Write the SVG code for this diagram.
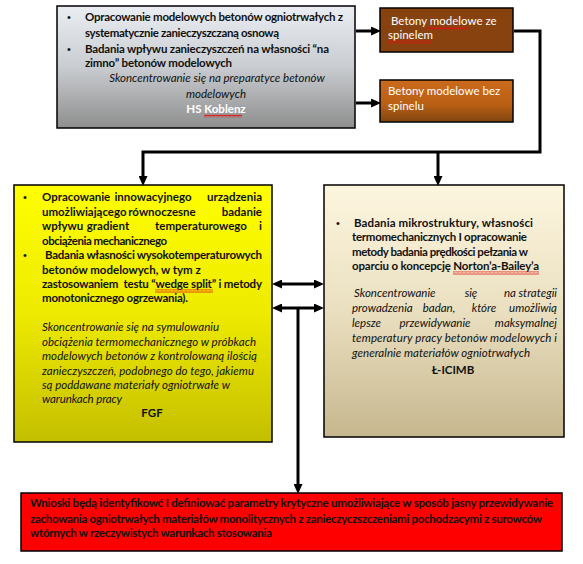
<svg xmlns="http://www.w3.org/2000/svg" width="583" height="564" viewBox="0 0 583 564">
<defs>
  <linearGradient id="gGray" x1="0" y1="0" x2="0" y2="1">
    <stop offset="0" stop-color="#eaeef3"/>
    <stop offset="0.5" stop-color="#c9ccd0"/>
    <stop offset="1" stop-color="#8e8e8e"/>
  </linearGradient>
  <linearGradient id="gBrown2" x1="0" y1="0" x2="0" y2="1">
    <stop offset="0" stop-color="#cc6a1c"/>
    <stop offset="0.6" stop-color="#b85f14"/>
    <stop offset="1" stop-color="#7e4510"/>
  </linearGradient>
  <linearGradient id="gYellow" x1="0" y1="0" x2="0" y2="1">
    <stop offset="0" stop-color="#ffff00"/>
    <stop offset="0.5" stop-color="#eeea00"/>
    <stop offset="1" stop-color="#c4bf00"/>
  </linearGradient>
  <linearGradient id="gBeige" x1="0" y1="0" x2="0" y2="1">
    <stop offset="0" stop-color="#fdf6df"/>
    <stop offset="0.5" stop-color="#eadfc0"/>
    <stop offset="1" stop-color="#c6b78e"/>
  </linearGradient>
  <pattern id="zig" width="4" height="3" patternUnits="userSpaceOnUse">
    <path d="M0,2.5 L1,0.5 L2,2.5 L3,0.5 L4,2.5" fill="none" stroke="#e01010" stroke-width="0.8"/>
  </pattern>
  <marker id="ah" markerUnits="userSpaceOnUse" markerWidth="10" markerHeight="9" refX="0" refY="4.5" orient="auto-start-reverse" viewBox="0 0 10 9">
    <path d="M0,0 L10,4.5 L0,9 Z" fill="#000"/>
  </marker>
  <style>
    .box { stroke: #000; stroke-width: 1.5; }
    .b { font-family: Lato, "Liberation Sans", sans-serif; font-weight: bold; font-size: 11.5px; fill: #111; }
    .i { font-family: Lato, "Liberation Sans", sans-serif; font-style: italic; font-size: 11.5px; fill: #111; }
    .w { font-family: Lato, "Liberation Sans", sans-serif; font-size: 11.5px; fill: #fff; }
    .wb { font-family: Lato, "Liberation Sans", sans-serif; font-weight: bold; font-size: 11.5px; fill: #fff; }
    .dot { font-family: "Liberation Sans", sans-serif; font-size: 11px; fill: #111; }
    .c { text-anchor: middle; }
    .e { text-anchor: end; }
    .conn { fill: none; stroke: #000; stroke-width: 3; }
    .sq { fill: url(#zig); }
  </style>
</defs>

<g id="node-hs-koblenz">
  <rect class="box" x="57" y="6" width="298" height="122" fill="url(#gGray)"/>
  <text class="dot" x="67" y="21">•</text>
  <text class="b" x="85" y="21" textLength="258" lengthAdjust="spacing">Opracowanie modelowych betonów ogniotrwałych z</text>
  <text class="b" x="85" y="37" textLength="194" lengthAdjust="spacing">systematycznie zanieczyszczaną osnową</text>
  <text class="dot" x="67" y="53">•</text>
  <text class="b" x="85" y="53" textLength="244" lengthAdjust="spacing">Badania wpływu zanieczyszczeń na własności “na</text>
  <text class="b" x="85" y="67" textLength="147" lengthAdjust="spacing">zimno” betonów modelowych</text>
  <text class="i c" x="217" y="82">Skoncentrowanie się na preparatyce betonów</text>
  <text class="i c" x="216" y="98">modelowych</text>
  <text class="wb c" x="216" y="113">HS Koblenz</text>
  <rect class="sq" x="204" y="114.5" width="38" height="3"/>
</g>

<g id="node-ze-spinelem">
  <rect class="box" x="380" y="8" width="133" height="44" fill="#88420f"/>
  <text class="w" x="391" y="25">Betony modelowe ze</text>
  <text class="w" x="388" y="39">spinelem</text>
  <rect class="sq" x="427" y="26.5" width="40" height="3"/>
  <rect class="sq" x="388" y="40.5" width="43" height="3"/>
</g>

<g id="node-bez-spinelu">
  <rect class="box" x="380" y="80" width="133" height="42" fill="url(#gBrown2)"/>
  <text class="w" x="388" y="95">Betony modelowe bez</text>
  <text class="w" x="388" y="110">spinelu</text>
</g>

<g id="node-fgf">
  <rect class="box" x="14" y="185" width="258" height="257" fill="url(#gYellow)"/>
  <text class="dot" x="23" y="201">•</text>
  <text class="b" y="201"><tspan x="42">Opracowanie</tspan><tspan x="153" class="c">innowacyjnego</tspan><tspan x="262" class="e">urządzenia</tspan></text>
  <text class="b" y="216"><tspan x="42">umożliwiającego</tspan><tspan x="162" class="c">równoczesne</tspan><tspan x="262" class="e">badanie</tspan></text>
  <text class="b" y="230"><tspan x="42">wpływu</tspan><tspan x="108" class="c">gradient</tspan><tspan x="201" class="c">temperaturowego</tspan><tspan x="262" class="e">i</tspan></text>
  <text class="b" x="42" y="245" textLength="125" lengthAdjust="spacing">obciążenia mechanicznego</text>
  <text class="dot" x="23" y="259">•</text>
  <text class="b" x="45" y="259" textLength="217" lengthAdjust="spacing">Badania własności wysokotemperaturowych</text>
  <text class="b" x="42" y="274">betonów modelowych, w tym z</text>
  <text class="b" x="42" y="288" textLength="220" lengthAdjust="spacing" xml:space="preserve">zastosowaniem  testu “wedge split” i metody</text>
  <rect class="sq" x="155" y="289.5" width="58" height="3"/>
  <text class="b" x="42" y="302" textLength="146" lengthAdjust="spacing">monotonicznego ogrzewania).</text>
  <text class="i" x="42" y="331" textLength="177" lengthAdjust="spacing">Skoncentrowanie się na symulowaniu</text>
  <text class="i" x="42" y="346" textLength="214" lengthAdjust="spacing">obciążenia termomechanicznego w próbkach</text>
  <text class="i" x="42" y="360" textLength="215" lengthAdjust="spacing">modelowych betonów z kontrolowaną ilością</text>
  <text class="i" x="42" y="375" textLength="212" lengthAdjust="spacing">zanieczyszczeń, podobnego do tego, jakiemu</text>
  <text class="i" x="42" y="389" textLength="188" lengthAdjust="spacing">są poddawane materiały ogniotrwałe w</text>
  <text class="i" x="42" y="403" textLength="80" lengthAdjust="spacing">warunkach pracy</text>
  <text class="b c" x="152" y="417">FGF</text>
</g>

<g id="node-licimb">
  <rect class="box" x="324" y="185" width="240" height="252" fill="url(#gBeige)"/>
  <text class="dot" x="336" y="227">•</text>
  <text class="b" x="354" y="227" textLength="179" lengthAdjust="spacing">Badania mikrostruktury, własności</text>
  <text class="b" x="352" y="241" textLength="175" lengthAdjust="spacing">termomechanicznych I opracowanie</text>
  <text class="b" x="352" y="256" textLength="176" lengthAdjust="spacing">metody badania prędkości pełzania w</text>
  <text class="b" x="352" y="270" textLength="187" lengthAdjust="spacing">oparciu o koncepcję Norton’a-Bailey’a</text>
  <rect class="sq" x="453" y="271.5" width="86" height="3"/>
  <text class="i" y="297"><tspan x="354">Skoncentrowanie</tspan><tspan x="471" class="c">się</tspan><tspan x="510" class="c">na</tspan><tspan x="557" class="e">strategii</tspan></text>
  <text class="i" y="312"><tspan x="352">prowadzenia</tspan><tspan x="439" class="c">badan,</tspan><tspan x="484" class="c">które</tspan><tspan x="557" class="e">umożliwią</tspan></text>
  <text class="i" y="327"><tspan x="352">lepsze</tspan><tspan x="435" class="c">przewidywanie</tspan><tspan x="557" class="e">maksymalnej</tspan></text>
  <text class="i" x="352" y="342" textLength="205" lengthAdjust="spacing">temperatury pracy betonów modelowych i</text>
  <text class="i" x="352" y="357" textLength="178" lengthAdjust="spacing">generalnie materiałów ogniotrwałych</text>
  <text class="b c" x="453" y="374">Ł-ICIMB</text>
</g>

<g id="node-wnioski">
  <rect class="box" x="21" y="493" width="541" height="58" fill="#ff0000"/>
  <text class="b" x="30" y="507" textLength="523" lengthAdjust="spacing">Wnioski będą identyfikowć I definiować parametry krytyczne umożliwiające w sposób jasny przewidywanie</text>
  <text class="b" x="30" y="523" textLength="512" lengthAdjust="spacing">zachowania ogniotrwałych materiałów monolitycznych z zanieczyczszczeniami pochodzacymi z surowców</text>
  <text class="b" x="30" y="537" textLength="242" lengthAdjust="spacing">wtórnych w rzeczywistych warunkach stosowania</text>
</g>

<g id="connectors">
  <path class="conn" d="M356,31 H371" marker-end="url(#ah)"/>
  <path class="conn" d="M356,103 H371" marker-end="url(#ah)"/>
  <path class="conn" d="M514,31 H540 V152 H143 V176" marker-end="url(#ah)"/>
  <path class="conn" d="M438,152 V176" marker-end="url(#ah)"/>
  <path class="conn" d="M282,284 H314" marker-start="url(#ah)" marker-end="url(#ah)"/>
  <path class="conn" d="M282,308 H314" marker-start="url(#ah)" marker-end="url(#ah)"/>
  <path class="conn" d="M298,308 V484" marker-end="url(#ah)"/>
</g>
</svg>
